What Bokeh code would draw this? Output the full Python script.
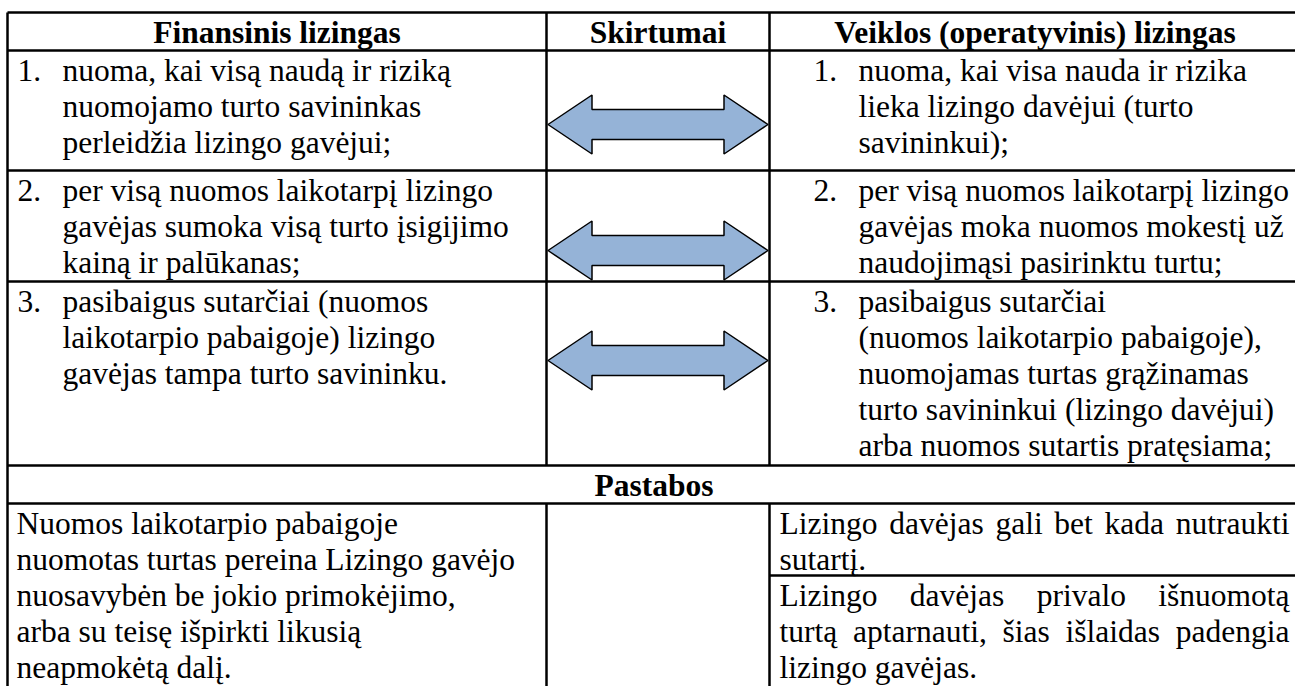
from bokeh.plotting import figure
from bokeh.models import Range1d
from bokeh.core.properties import value
from bokeh.embed import file_html
from bokeh.resources import INLINE

# ---------------- data (texts of the table) ----------------
headers = ["Finansinis lizingas", "Skirtumai", "Veiklos (operatyvinis) lizingas"]
item_numbers = ["1.", "2.", "3."]
finance_lines = [
    ["nuoma, kai visą naudą ir riziką", "nuomojamo turto savininkas", "perleidžia lizingo gavėjui;"],
    ["per visą nuomos laikotarpį lizingo", "gavėjas sumoka visą turto įsigijimo", "kainą ir palūkanas;"],
    ["pasibaigus sutarčiai (nuomos", "laikotarpio pabaigoje) lizingo", "gavėjas tampa turto savininku."],
]
operating_lines = [
    ["nuoma, kai visa nauda ir rizika", "lieka lizingo davėjui (turto", "savininkui);"],
    ["per visą nuomos laikotarpį lizingo", "gavėjas moka nuomos mokestį už", "naudojimąsi pasirinktu turtu;"],
    ["pasibaigus sutarčiai", "(nuomos laikotarpio pabaigoje),", "nuomojamas turtas grąžinamas",
     "turto savininkui (lizingo davėjui)", "arba nuomos sutartis pratęsiama;"],
]
notes_title = "Pastabos"
finance_note = ["Nuomos laikotarpio pabaigoje", "nuomotas turtas pereina Lizingo gavėjo",
                "nuosavybėn be jokio primokėjimo,", "arba su teisę išpirkti likusią", "neapmokėtą dalį."]
operating_notes = [
    ["Lizingo davėjas gali bet kada nutraukti", "sutartį."],
    ["Lizingo davėjas privalo išnuomotą", "turtą aptarnauti, šias išlaidas padengia", "lizingo gavėjas."],
]
operating_notes_justified = [[True, False], [True, True, False]]
difference_rows = [0, 1, 2]          # rows that carry a double arrow

# ---------------- layout / style ----------------
FONT = value("Liberation Serif")
FS = 31.5
FS_PX = f"{FS}px"
LINE = 36.0
TEXT_DY = 19.5            # anchor offset below a cell's top edge
X_L, X_C1, X_C2, X_R = 7, 546, 769, 1300
Y_TOP, Y_HEAD = 12, 50
ROW_BOTTOMS = [170, 281, 465]
Y_NOTES_HEAD = 503
Y_BOTTOM = 700
Y_NOTE_SPLIT = 575
NUM_X_L, TXT_X_L = 17, 62
NUM_X_R, TXT_X_R = 813, 858
NOTE_X_L, NOTE_X_R, NOTE_RIGHT = 16, 779, 1289
ARROW_Y = [124, 250, 360]
ARROW_HEAD_LEN, ARROW_HEAD_HALF, ARROW_SHAFT_HALF = 44, 29.5, 15
ARROW_FILL = "#95B3D7"
BORDER_W = 2.5

W, H = 1295, 686
p = figure(width=W, height=H, output_backend="svg", toolbar_location=None,
           x_range=Range1d(0, W), y_range=Range1d(H, 0),
           x_axis_type=None, y_axis_type=None, min_border=0,
           background_fill_color="white", border_fill_color="white")
p.grid.visible = False
p.outline_line_color = None

# Times / Liberation Serif advance widths (1/1000 em) for justification
_w = dict(zip("abcdefghijklmnopqrstuvwxyz",
              [444, 500, 444, 500, 444, 333, 500, 500, 278, 278, 500, 278, 778,
               500, 500, 500, 500, 333, 389, 278, 500, 500, 722, 500, 500, 444]))
_w.update({" ": 250, ",": 250, ".": 250, ";": 278, "(": 333, ")": 333, "L": 611, "N": 722})
_acc = {"ą": "a", "č": "c", "ę": "e", "ė": "e", "į": "i", "š": "s", "ų": "u", "ū": "u", "ž": "z"}


def text_width(s):
    return sum(_w.get(_acc.get(c, c), 500) for c in s) * FS / 1000.0


# ---------------- table borders ----------------
hx0, hy0, hx1, hy1 = [], [], [], []
for yy in [Y_TOP, Y_HEAD] + ROW_BOTTOMS + [Y_NOTES_HEAD]:
    hx0.append(X_L); hx1.append(X_R); hy0.append(yy); hy1.append(yy)
hx0.append(X_C2); hx1.append(X_R); hy0.append(Y_NOTE_SPLIT); hy1.append(Y_NOTE_SPLIT)
for xx in [X_L, X_R]:
    hx0.append(xx); hx1.append(xx); hy0.append(Y_TOP); hy1.append(Y_BOTTOM)
for xx in [X_C1, X_C2]:
    hx0.append(xx); hx1.append(xx); hy0.append(Y_TOP); hy1.append(ROW_BOTTOMS[-1])
    hx0.append(xx); hx1.append(xx); hy0.append(Y_NOTES_HEAD); hy1.append(Y_BOTTOM)
p.segment(x0=hx0, y0=hy0, x1=hx1, y1=hy1, line_color="black", line_width=BORDER_W)

# ---------------- arrows ----------------
axs, ays = [], []
for r in difference_rows:
    cy = ARROW_Y[r]
    lt, rt = X_C1 + 1.5, X_C2 - 1.5
    hl, hr = lt + ARROW_HEAD_LEN, rt - ARROW_HEAD_LEN
    axs.append([lt, hl, hl, hr, hr, rt, hr, hr, hl, hl])
    ays.append([cy, cy - ARROW_HEAD_HALF, cy - ARROW_SHAFT_HALF, cy - ARROW_SHAFT_HALF,
                cy - ARROW_HEAD_HALF, cy, cy + ARROW_HEAD_HALF, cy + ARROW_SHAFT_HALF,
                cy + ARROW_SHAFT_HALF, cy + ARROW_HEAD_HALF])
p.patches(xs=axs, ys=ays, fill_color=ARROW_FILL, line_color="black", line_width=1.5)

# ---------------- texts ----------------
tx, ty, tt = [], [], []          # regular left-aligned
bx, by, bt = [], [], []          # bold centered

col_centers = [(X_L + X_C1) / 2, (X_C1 + X_C2) / 2, (X_C2 + X_R) / 2]
for h, cx in zip(headers, col_centers):
    bx.append(cx); by.append(Y_TOP + TEXT_DY); bt.append(h)
bx.append((X_L + X_R) / 2); by.append(ROW_BOTTOMS[-1] + TEXT_DY); bt.append(notes_title)

row_tops = [Y_HEAD] + ROW_BOTTOMS[:-1]
for r, top in enumerate(row_tops):
    base = top + TEXT_DY
    tx.append(NUM_X_L); ty.append(base); tt.append(item_numbers[r])
    for i, ln in enumerate(finance_lines[r]):
        tx.append(TXT_X_L); ty.append(base + i * LINE); tt.append(ln)
    tx.append(NUM_X_R); ty.append(base); tt.append(item_numbers[r])
    for i, ln in enumerate(operating_lines[r]):
        tx.append(TXT_X_R); ty.append(base + i * LINE); tt.append(ln)

base = Y_NOTES_HEAD + TEXT_DY
for i, ln in enumerate(finance_note):
    tx.append(NOTE_X_L); ty.append(base + i * LINE); tt.append(ln)

note_tops = [Y_NOTES_HEAD, Y_NOTE_SPLIT]
for n, lines in enumerate(operating_notes):
    base = note_tops[n] + TEXT_DY
    for i, ln in enumerate(lines):
        yy = base + i * LINE
        if operating_notes_justified[n][i]:
            words = ln.split(" ")
            widths = [text_width(w_) for w_ in words]
            gap = (NOTE_RIGHT - NOTE_X_R - sum(widths)) / (len(words) - 1)
            x = NOTE_X_R
            for w_, wd in zip(words, widths):
                tx.append(x); ty.append(yy); tt.append(w_)
                x += wd + gap
        else:
            tx.append(NOTE_X_R); ty.append(yy); tt.append(ln)

p.text(x=tx, y=ty, text=tt, text_font=FONT, text_font_size=FS_PX,
       text_baseline="alphabetic", text_align="left", text_color="black")
p.text(x=bx, y=by, text=bt, text_font=FONT, text_font_size=FS_PX, text_font_style="bold",
       text_baseline="alphabetic", text_align="center", text_color="black")

open("out.html", "w").write(file_html(p, INLINE))
